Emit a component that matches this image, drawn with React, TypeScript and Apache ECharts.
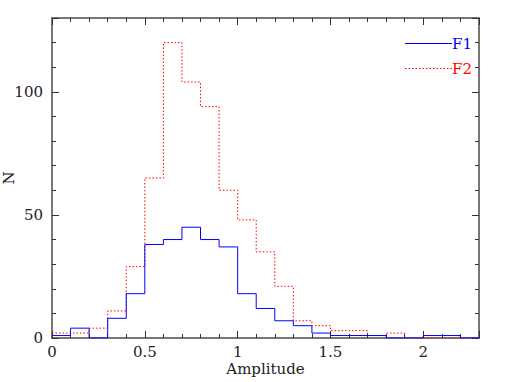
import React, { useEffect, useRef } from "react";
import * as echarts from "echarts";

// Histogram bin edges (Amplitude)
const binEdges = [0, 0.1, 0.2, 0.3, 0.4, 0.5, 0.6, 0.7, 0.8, 0.9, 1.0, 1.1, 1.2, 1.3, 1.4, 1.5, 1.6, 1.7, 1.8, 1.9, 2.0, 2.1, 2.2, 2.3];
// Counts per bin
const f1Counts = [1, 4, 0, 8, 18, 38, 40, 45, 40, 37, 18, 12, 7, 5, 2, 1, 1, 1, 0, 0, 1, 1, 0];
const f2Counts = [2, 2, 4, 11, 29, 65, 120, 104, 94, 60, 48, 35, 21, 7, 5, 3, 3, 1, 2, 0, 0, 0, 0];
const seriesNames = ["F1", "F2"];
const xTickLabels = ["0", "0.5", "1", "1.5", "2"];
const yTickLabels = ["0", "50", "100"];

const FONT = "DejaVu Serif";

function stepData(counts: number[]) {
  const d: [number, number][] = counts.map((c, i) => [binEdges[i], c]);
  d.push([binEdges[binEdges.length - 1], counts[counts.length - 1]]);
  return d;
}

export default function App() {
  const ref = useRef<HTMLDivElement>(null);
  useEffect(() => {
    if (!ref.current) return;
    const chart = echarts.init(ref.current, undefined, { renderer: "svg" });
    const tickColor = "#333";
    const lineColor = "#777";
    const fmtX = (v: number) => {
      const s = String(Math.round(v * 10) / 10);
      return xTickLabels.includes(s) ? s : "";
    };
    const fmtY = (v: number) => {
      const s = String(Math.round(v));
      return yTickLabels.includes(s) ? s : "";
    };
    const gridRect = { left: 52, right: 31, top: 18, bottom: 44, containLabel: false, outerBoundsMode: "none" };
    const mkX = (gridIndex: number, position: string, interval: number, len: number, extra: any = {}) => ({
      type: "value",
      gridIndex,
      position,
      min: 0,
      max: 2.3,
      interval,
      splitLine: { show: false },
      axisLine: { show: interval > 0.2, onZero: false, lineStyle: { color: lineColor, width: 2 } },
      axisTick: { inside: true, length: len, lineStyle: { color: tickColor, width: 1 } },
      axisLabel: { show: false },
      ...extra,
    });
    const mkY = (gridIndex: number, position: string, interval: number, len: number, extra: any = {}) => ({
      type: "value",
      gridIndex,
      position,
      min: 0,
      max: 130,
      interval,
      splitLine: { show: false },
      axisLine: { show: interval > 20, onZero: false, lineStyle: { color: lineColor, width: 2 } },
      axisTick: { inside: true, length: len, lineStyle: { color: tickColor, width: 1 } },
      axisLabel: { show: false },
      ...extra,
    });
    const option: any = {
      animation: false,
      grid: [gridRect, gridRect, gridRect, gridRect],
      xAxis: [
        mkX(0, "bottom", 0.1, 4),
        mkX(1, "bottom", 0.5, 7, {
          axisLabel: {
            show: true,
            margin: 7,
            formatter: fmtX,
            fontFamily: FONT,
            fontSize: 15,
            lineHeight: 14,
            color: "#222",
          },
          name: "Amplitude",
          nameLocation: "middle",
          nameGap: 24,
          nameMoveOverlap: false,
          nameTextStyle: { fontFamily: FONT, fontSize: 15, lineHeight: 14, color: "#222" },
        }),
        mkX(2, "top", 0.1, 4),
        mkX(3, "top", 0.5, 7),
      ],
      yAxis: [
        mkY(0, "left", 10, 4),
        mkY(1, "left", 50, 7, {
          axisLabel: {
            show: true,
            margin: 9,
            formatter: fmtY,
            fontFamily: FONT,
            fontSize: 15,
            color: "#222",
          },
          name: "N",
          nameLocation: "middle",
          nameGap: 37,
          nameMoveOverlap: false,
          nameTextStyle: { fontFamily: FONT, fontSize: 15, lineHeight: 12, color: "#222" },
        }),
        mkY(2, "right", 10, 4),
        mkY(3, "right", 50, 7),
      ],
      series: [
        {
          name: seriesNames[1],
          type: "line",
          xAxisIndex: 1,
          yAxisIndex: 1,
          step: "end",
          symbol: "none",
          data: stepData(f2Counts),
          lineStyle: { color: "#ff0000", width: 1, type: [1.5, 2] },
        },
        {
          name: seriesNames[0],
          type: "line",
          xAxisIndex: 1,
          yAxisIndex: 1,
          step: "end",
          symbol: "none",
          data: stepData(f1Counts),
          lineStyle: { color: "#0000ff", width: 1 },
        },
      ],
      graphic: [
        {
          type: "line",
          shape: { x1: 405, y1: 43.5, x2: 452, y2: 43.5 },
          style: { stroke: "#0000ff", lineWidth: 1 },
        },
        {
          type: "text",
          x: 452,
          y: 43.5,
          style: {
            text: seriesNames[0],
            fill: "#0000ff",
            font: `15px "${FONT}"`,
            verticalAlign: "middle",
            align: "left",
          },
        },
        {
          type: "line",
          shape: { x1: 405, y1: 68.5, x2: 452, y2: 68.5 },
          style: { stroke: "#ff0000", lineWidth: 1, lineDash: [1.5, 2] },
        },
        {
          type: "text",
          x: 452,
          y: 68.5,
          style: {
            text: seriesNames[1],
            fill: "#ff0000",
            font: `15px "${FONT}"`,
            verticalAlign: "middle",
            align: "left",
          },
        },
      ],
    };
    chart.setOption(option);
    return () => chart.dispose();
  }, []);
  return (
    <div
      ref={ref}
      style={{ position: "absolute", left: 0, top: 0, width: 510, height: 382, background: "#fff" }}
    />
  );
}
